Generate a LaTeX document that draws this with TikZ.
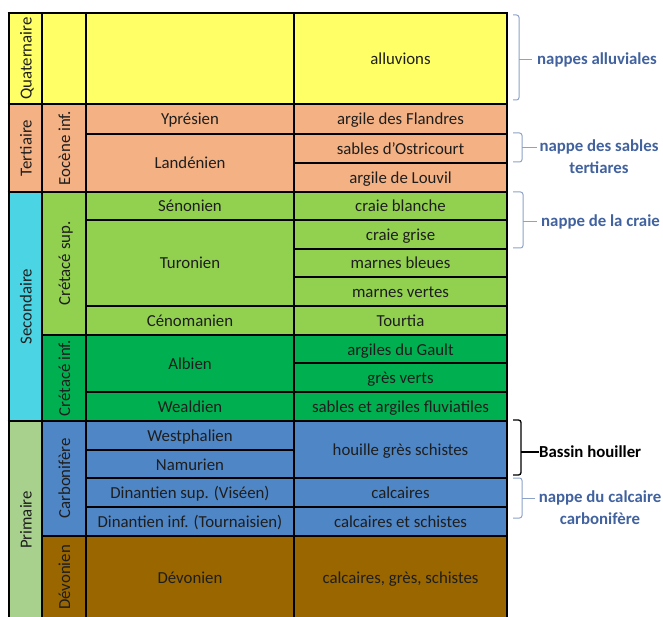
\documentclass[tikz,border=0pt]{standalone}
\usepackage{fontspec}
\setmainfont{Carlito}
\definecolor{quat}{RGB}{255,255,102}
\definecolor{tert}{RGB}{244,177,131}
\definecolor{csup}{RGB}{146,208,80}
\definecolor{cinf}{RGB}{0,176,80}
\definecolor{second}{RGB}{75,213,228}
\definecolor{carb}{RGB}{79,134,198}
\definecolor{devon}{RGB}{153,102,0}
\definecolor{prim}{RGB}{169,209,142}
\definecolor{txt}{RGB}{30,30,30}
\definecolor{lab}{RGB}{65,98,158}
\definecolor{brc}{RGB}{140,162,200}
\tikzset{
  celltext/.style={font=\fontsize{16.8}{20}\selectfont, text=txt, inner sep=0pt, text height=13pt, text depth=1pt},
  cellline/.style={draw=black, line width=1.6pt},
  majorline/.style={draw=black, line width=2.6pt},
  labtext/.style={font=\bfseries\fontsize{16.8}{22}\selectfont, text=lab, inner sep=0pt, align=center},
  bracebl/.style={draw=brc, line width=1pt, rounded corners=2.5pt},
  bracebk/.style={draw=black, line width=1.3pt, rounded corners=2.5pt},
}
\newcommand\hcell[7]{\filldraw[fill=#6, cellline] (#2,#3) rectangle (#4,#5);
  \node[celltext] (#1) at ({(#2+#4)/2},{(#3+#5)/2}) {#7};}
\newcommand\vcell[7]{\filldraw[fill=#6, cellline] (#2,#3) rectangle (#4,#5);
  \node[celltext, rotate=90] (#1) at ({(#2+#4)/2},{(#3+#5)/2}) {#7};}
\begin{document}
\begin{tikzpicture}[x=1pt,y=-1pt]
\useasboundingbox (0,0) rectangle (663,617);
\begin{scope}
\clip (0,0) rectangle (663,617);
% era column
\vcell{equat}{9}{13}{42}{104}{quat}{Quaternaire}
\vcell{etert}{9}{104}{42}{192}{tert}{Tertiaire}
\vcell{esec}{9}{192}{42}{421}{second}{Secondaire}
\vcell{eprim}{9}{421}{42}{619}{prim}{Primaire}
% period column
\hcell{pquat}{42}{13}{86}{104}{quat}{}
\vcell{peoc}{42}{104}{86}{192}{tert}{Eocène inf.}
\vcell{pcsup}{42}{192}{86}{335}{csup}{Crétacé sup.}
\vcell{pcinf}{42}{335}{86}{421}{cinf}{Crétacé inf.}
\vcell{pcarb}{42}{421}{86}{536}{carb}{Carbonifère}
\vcell{pdev}{42}{536}{86}{619}{devon}{Dévonien}
% stage column
\hcell{squat}{86}{13}{294}{104}{quat}{}
\hcell{sypr}{86}{104}{294}{134}{tert}{Yprésien}
\hcell{slan}{86}{134}{294}{192}{tert}{Landénien}
\hcell{ssen}{86}{192}{294}{220}{csup}{Sénonien}
\hcell{stur}{86}{220}{294}{306}{csup}{Turonien}
\hcell{scen}{86}{306}{294}{335}{csup}{Cénomanien}
\hcell{salb}{86}{335}{294}{392}{cinf}{Albien}
\hcell{swea}{86}{392}{294}{421}{cinf}{Wealdien}
\hcell{swes}{86}{421}{294}{450}{carb}{Westphalien}
\hcell{snam}{86}{450}{294}{478}{carb}{Namurien}
\hcell{sdsup}{86}{478}{294}{507}{carb}{Dinantien sup. (Viséen)}
\hcell{sdinf}{86}{507}{294}{536}{carb}{Dinantien inf. (Tournaisien)}
\hcell{sdev}{86}{536}{294}{619}{devon}{Dévonien}
% lithology column
\hcell{lall}{294}{13}{507}{104}{quat}{alluvions}
\hcell{lfla}{294}{104}{507}{134}{tert}{argile des Flandres}
\hcell{lost}{294}{134}{507}{163}{tert}{sables d'Ostricourt}
\hcell{llou}{294}{163}{507}{192}{tert}{argile de Louvil}
\hcell{lcbl}{294}{192}{507}{220}{csup}{craie blanche}
\hcell{lcgr}{294}{220}{507}{249}{csup}{craie grise}
\hcell{lmbl}{294}{249}{507}{277}{csup}{marnes bleues}
\hcell{lmve}{294}{277}{507}{306}{csup}{marnes vertes}
\hcell{ltou}{294}{306}{507}{335}{csup}{Tourtia}
\hcell{lgau}{294}{335}{507}{363}{cinf}{argiles du Gault}
\hcell{lgve}{294}{363}{507}{392}{cinf}{grès verts}
\hcell{lsaf}{294}{392}{507}{421}{cinf}{sables et argiles fluviatiles}
\hcell{lhou}{294}{421}{507}{478}{carb}{houille grès schistes}
\hcell{lcal}{294}{478}{507}{507}{carb}{calcaires}
\hcell{lcas}{294}{507}{507}{536}{carb}{calcaires et schistes}
\hcell{lcgs}{294}{536}{507}{619}{devon}{calcaires, grès, schistes}
% major lines
\foreach \x in {9,42,86,294,507} \draw[majorline] (\x,12) -- (\x,620);
\foreach \y in {13,104,192,421} \draw[majorline] (7.7,\y) -- (508.3,\y);
\draw[majorline] (42,536) -- (508.3,536);
\end{scope}
% labels
\node[labtext, anchor=west] (nall) at (537,60) {nappes alluviales};
\node[labtext, anchor=north] (nsab) at (599,140) {nappe des sables\\tertiares};
\node[labtext, anchor=west] (ncra) at (541,222) {nappe de la craie};
\node[labtext, anchor=west, text=black] (nbas) at (539,452) {Bassin houiller};
\node[labtext, anchor=north] (ncal) at (600,491) {nappe du calcaire\\carbonifère};
% braces
\draw[bracebl] (513,15) -- (519,15) -- (519,100) -- (513,100);
\coordinate (ball) at (519,60);
\draw[bracebl] (ball) -- (nall.west -| 532,0);
\draw[bracebl] (513,133) -- (522,133) -- (522,162) -- (513,162);
\coordinate (bsab) at (522,148);
\draw[bracebl] (bsab) -- (537,148);
\draw[bracebl] (513,192) -- (523,192) -- (523,248) -- (513,248);
\coordinate (bcra) at (523,222);
\draw[bracebl] (bcra) -- (ncra.west -| 537,0);
\draw[bracebk] (513,420) -- (521,420) -- (521,475) -- (513,475);
\coordinate (bbas) at (521,452);
\draw[bracebk] (bbas) -- (nbas.west);
\draw[bracebl] (513,478) -- (522,478) -- (522,518) -- (513,518);
\coordinate (bcal) at (522,498);
\draw[bracebl] (bcal) -- (535,498);
\end{tikzpicture}
\end{document}
